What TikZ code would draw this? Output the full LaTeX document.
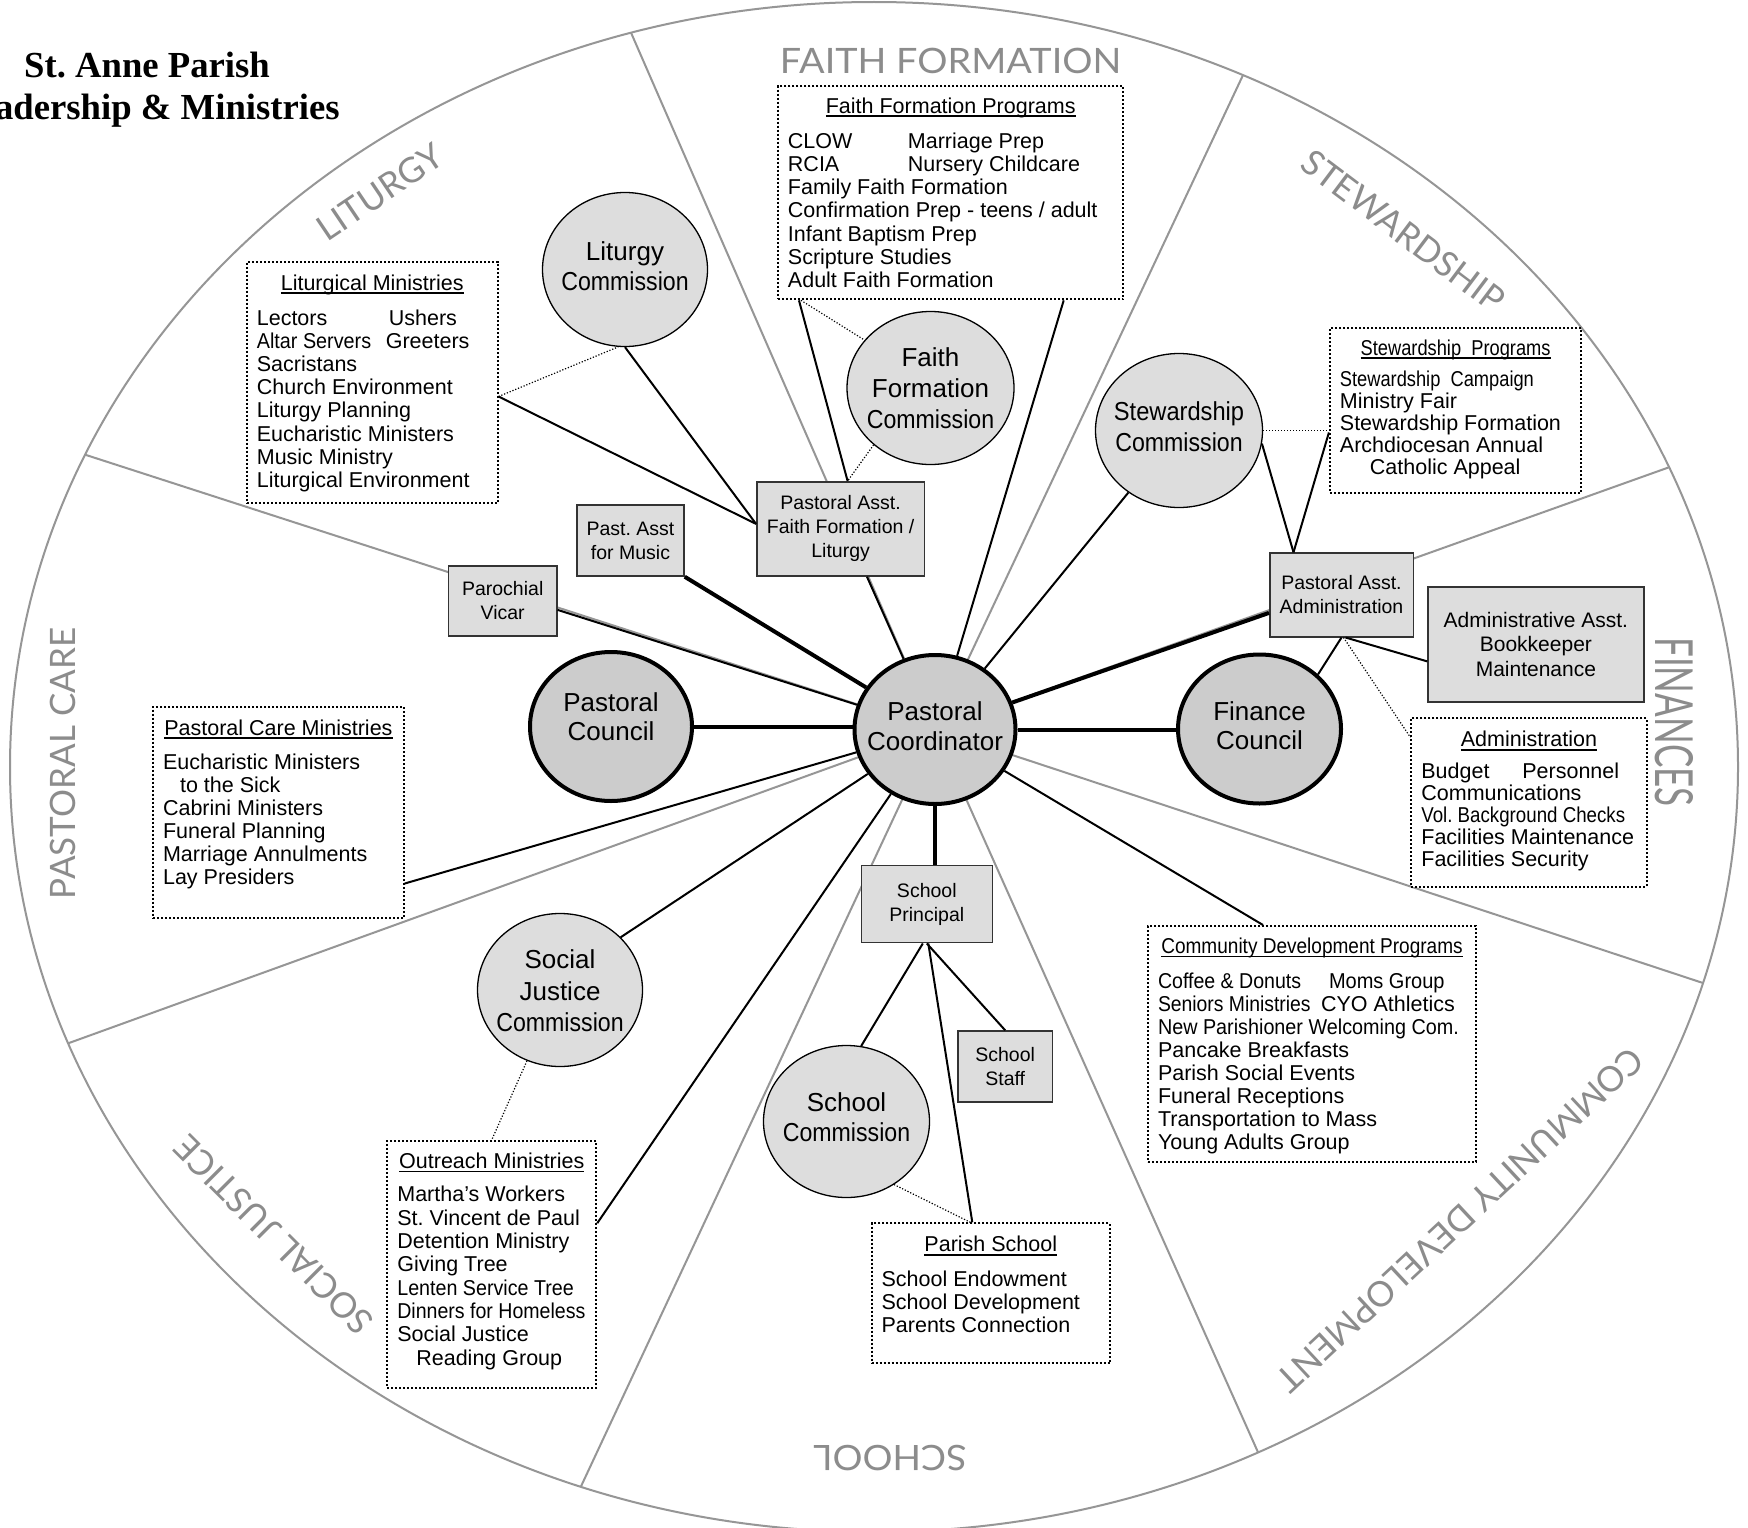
\documentclass[tikz,border=0pt]{standalone}
\usepackage{fontspec}
\usepackage{graphicx}
\setmainfont{Liberation Sans}
\newfontfamily\titlefont{Liberation Serif}
\newfontfamily\secfont{Lato}
\usetikzlibrary{shapes.geometric,intersections,calc}
\definecolor{secgray}{RGB}{140,140,140}
\definecolor{rimgray}{RGB}{150,150,150}
\definecolor{darkfill}{RGB}{204,204,204}
\definecolor{lightfill}{RGB}{221,221,221}
\frenchspacing
\newcommand\ulx[1]{\setbox0\hbox{#1}\rlap{\rule[-4pt]{\wd0}{1.6pt}}\box0}
\newcommand\colto[2]{\makebox[#1][l]{#2}}
\newcommand\cond[2][0.9]{\scalebox{#1}[1]{#2}}
\newcommand\cmm{\cond[0.89]{Commission}}
\newcommand\ctext[3]{\makebox[0pt]{\raisebox{#1}[0pt][0pt]{\fontsize{26}{#2}\selectfont\begin{tabular}[t]{@{}c@{}}#3\end{tabular}}}}
\newcommand\progtext[7]{\parbox[c][#2][t]{#1}{\fontsize{21.5}{#6}\selectfont
  \centering\rule{0pt}{#7}\ulx{#3}\par
  \vspace{#5}%
  \raggedright #4\par}}
\begin{document}
\begin{tikzpicture}[x=1pt,y=-1pt,
  bigcirc/.style={ellipse, draw=black, line width=4pt, fill=darkfill, inner sep=0pt},
  comm/.style={ellipse, draw=black, line width=1.3pt, fill=lightfill, inner sep=0pt},
  role/.style={rectangle, draw=black!80, line width=1.5pt, fill=lightfill, inner sep=0pt, align=center, font=\fontsize{19.5}{24}\selectfont},
  prog/.style={rectangle, draw=black, line width=2pt, dash pattern=on 2pt off 2pt, fill=white, inner xsep=10pt, inner ysep=0pt},
  link/.style={draw=black, line width=2pt},
  heavy/.style={draw=black, line width=4pt},
  dotlink/.style={draw=black, line width=1.2pt, dash pattern=on 1.2pt off 1.8pt},
  sector/.style={draw=rimgray, line width=2pt},
  seclabel/.style={text=secgray, font=\secfont\fontsize{35}{35}\selectfont, inner sep=0pt}]
\useasboundingbox (0,0) rectangle (1748,1528);
\fill[white] (0,0) rectangle (1748,1528);
\clip (0,0) rectangle (1748,1528);

% rim and sector lines
\draw[rimgray, line width=2pt, name path=rim] (874,767) ellipse [x radius=864pt, y radius=765pt];
\coordinate (hub) at (935,729.5);
\foreach \k/\tx/\ty in {1/632/35, 2/1244/73, 3/1667/468, 4/1703/983, 5/1257/1450, 6/584/1480, 7/69/1043, 8/86/455} {
  \path[name path=ray\k] (hub) -- ($(hub)!1.5!(\tx,\ty)$);
  \path[name intersections={of=rim and ray\k, by=rimpt\k}];
  \draw[sector] (hub) -- (rimpt\k);
}

% councils and coordinator
\node[bigcirc, minimum width=161pt, minimum height=149pt] (pc) at (hub) {\ctext{9.5pt}{30pt}{Pastoral\\Coordinator}};
\node[bigcirc, minimum width=162pt, minimum height=149pt] (pco) at (611,726.5) {\ctext{14.8pt}{28.5pt}{Pastoral\\Council}};
\node[bigcirc, minimum width=163pt, minimum height=149pt] (fc) at (1259.5,729) {\ctext{9pt}{29.3pt}{Finance\\Council}};

% commissions
\node[comm, minimum width=165pt, minimum height=154pt] (lc) at (625,269.5) {\ctext{9.5pt}{30pt}{Liturgy\\\cmm}};
\node[comm, minimum width=167pt, minimum height=153pt] (ffc) at (930.5,388) {\ctext{21.5pt}{31pt}{Faith\\Formation\\\cmm}};
\node[comm, minimum width=167pt, minimum height=154pt] (stc) at (1179,430.5) {\ctext{10.5pt}{31pt}{\cond[0.91]{Stewardship}\\\cmm}};
\node[comm, minimum width=165pt, minimum height=153pt] (sjc) at (560,990) {\ctext{21.5pt}{31.5pt}{Social\\Justice\\\cmm}};
\node[comm, minimum width=166pt, minimum height=152pt] (scc) at (846.5,1121.5) {\ctext{9.8pt}{30pt}{School\\\cmm}};

% staff boxes
\node[role, minimum width=108.3pt, minimum height=70.3pt] (pv) at (502.7,600.9) {Parochial\\Vicar};
\node[role, minimum width=107pt, minimum height=71pt] (music) at (630.5,540.5) {Past. Asst\\for Music};
\node[role, minimum width=167.6pt, minimum height=94.3pt] (paff) at (840.6,528.9) {Pastoral Asst.\\Faith Formation /\\Liturgy};
\node[role, minimum width=143.5pt, minimum height=83.7pt] (paa) at (1341.5,594.9) {Pastoral Asst.\\Administration};
\node[role, minimum width=215.7pt, minimum height=114.7pt, font=\fontsize{21}{24.5}\selectfont] (aa) at (1535.9,644.4) {Administrative Asst.\\Bookkeeper\\Maintenance};
\node[role, minimum width=130.9pt, minimum height=77pt] (sp) at (926.8,904.2) {School\\Principal};
\node[role, minimum width=94.9pt, minimum height=70.7pt] (ss) at (1005.2,1066.4) {School\\Staff};

% ministry / program boxes
\node[prog] (lm) at (372.2,382.5) {\progtext{230.7pt}{241.6pt}{Liturgical Ministries}{\colto{132pt}{Lectors}Ushers\\ \colto{129pt}{\cond[0.92]{Altar Servers}}Greeters\\ Sacristans\\ Church Environment\\ Liturgy Planning\\ Eucharistic Ministers\\ Music Ministry\\ Liturgical Environment}{11.8pt}{23.2pt}{28.3pt}};
\node[prog] (ffp) at (950.7,192.7) {\progtext{325.5pt}{213.3pt}{Faith Formation Programs}{\colto{120pt}{CLOW}Marriage Prep\\ \colto{120pt}{RCIA}Nursery Childcare\\ Family Faith Formation\\ Confirmation Prep - teens / adult\\ Infant Baptism Prep\\ Scripture Studies\\ Adult Faith Formation}{12.1pt}{23.2pt}{27pt}};
\node[prog] (stp) at (1455.6,410.5) {\progtext{231.4pt}{164.4pt}{\cond[0.85]{Stewardship\ \ Programs}}{\cond[0.85]{Stewardship\ \ Campaign}\\ Ministry Fair\\ Stewardship Formation\\ Archdiocesan Annual\\ \hspace*{30pt}Catholic Appeal}{9.7pt}{22pt}{26.7pt}};
\node[prog] (adm) at (1529,802.5) {\progtext{215.3pt}{168.4pt}{Administration}{\colto{101pt}{Budget}Personnel\\ Communications\\ \cond[0.87]{Vol. Background Checks}\\ Facilities Maintenance\\ Facilities Security}{9.5pt}{22.1pt}{28.4pt}};
\node[prog] (pcm) at (278.4,812.5) {\progtext{230.7pt}{211.6pt}{Pastoral Care Ministries}{Eucharistic Ministers\\ \hspace*{17pt}to the Sick\\ Cabrini Ministers\\ Funeral Planning\\ Marriage Annulments\\ Lay Presiders}{11.2pt}{23.1pt}{28.3pt}};
\node[prog] (cdp) at (1312,1044) {\progtext{308pt}{236pt}{\cond[0.885]{Community Development Programs}}{\colto{171pt}{\cond[0.91]{Coffee \& Donuts}}\cond[0.93]{Moms Group}\\ \colto{163pt}{\cond[0.9]{Seniors Ministries}}CYO Athletics\\ \cond[0.92]{New Parishioner Welcoming Com.}\\ Pancake Breakfasts\\ Parish Social Events\\ Funeral Receptions\\ Transportation to Mass\\ Young Adults Group}{11.8pt}{23.1pt}{27.3pt}};
\node[prog] (ob) at (491.8,1264.2) {\progtext{188.9pt}{247pt}{Outreach Ministries}{Martha’s Workers\\ St. Vincent de Paul\\ Detention Ministry\\ Giving Tree\\ \cond[0.915]{Lenten Service Tree}\\ \cond[0.91]{Dinners for Homeless}\\ Social Justice\\ \hspace*{19pt}Reading Group}{10.3pt}{23.3pt}{27.6pt}};
\node[prog] (ps) at (990.8,1293.3) {\progtext{218.4pt}{140pt}{Parish School}{School Endowment\\ School Development\\ Parents Connection}{11pt}{23.3pt}{28.4pt}};

% connectors from the coordinator
\draw[heavy] (pco.east) -- (pco.east -| pc.west);
\draw[heavy] (pc.east) -- (pc.east -| fc.west);
\draw[heavy] (pc) -- ([yshift=-18pt]paa.west);
\draw[heavy] (pc) -- (music.south east);
\draw[link] (pc) -- ([yshift=-9pt]pv.east);
\draw[link] (pc) -- ([xshift=26.4pt]paff.south);
\draw[link] (pc) -- ([xshift=113pt]ffp.south);
\draw[link] (pc) -- (stc);
\draw[link] (pc) -- ([xshift=-49pt]cdp.north);
\draw[heavy] (pc.south) -- (pc.south |- sp.north);
\draw[link] (pc) -- (sjc.41);
\draw[link] (pc) -- ([yshift=41pt]ob.east);
\draw[link] (pc) -- ([yshift=-71pt]pcm.east);

% liturgy
\draw[link] (lc.south) -- ([yshift=5pt]paff.west);
\draw[link] ([yshift=-14pt]lm.east) -- ([yshift=5pt]paff.west);
\draw[dotlink] ([yshift=-14pt]lm.east) -- (lc.265);

% faith formation
\draw[link] ([xshift=22pt]ffp.south west) -- ([xshift=7pt]paff.north);
\draw[dotlink] ([xshift=24pt]ffp.south west) -- (ffc.144);
\draw[dotlink] (ffc.225) -- ([xshift=7pt]paff.north);

% stewardship
\draw[dotlink] (stc.east) -- (stc.east -| stp.west);
\draw[link] (stc.-9) -- ([xshift=-48pt]paa.north);
\draw[link] ([yshift=-22pt]stp.west) -- ([xshift=-48pt]paa.north);

% finances
\draw[link] (paa.south) -- (fc.43);
\draw[link] ([xshift=4pt]paa.south) -- ([yshift=-17pt]aa.west);
\draw[dotlink] ([xshift=2pt]paa.south) -- ([yshift=-20pt]adm.north west);

% school
\draw[link] ([xshift=-4pt]sp.south) -- (scc.79);
\draw[link] ([xshift=1.5pt]sp.south) -- ([xshift=-18.5pt]ps.north);
\draw[link] (sp.south) -- (ss.north);
\draw[dotlink] (scc.-53) -- ([xshift=-20.5pt]ps.north);

% social justice
\draw[dotlink] (sjc.-115) -- (ob.north);

% sector labels
\node[seclabel] (lblff) at (950.6,60.5) {\cond[1.08]{FAITH FORMATION}};
\node[seclabel, rotate=34] (lbllit) at (380,192) {LITURGY};
\node[seclabel, rotate=-37] (lblstw) at (1403,231) {STEWARDSHIP};
\node[seclabel, rotate=-90] (lblfin) at (1674,722) {\scalebox{1}[1.5]{FINANCES}};
\node[seclabel, rotate=-137] (lblcd) at (1460,1220) {COMMUNITY DEVELOPMENT};
\node[seclabel, rotate=180] (lblsch) at (890,1458) {\cond[1.07]{SCHOOL}};
\node[seclabel, rotate=135] (lblsj) at (273.6,1235) {SOCIAL JUSTICE};
\node[seclabel, rotate=90] (lblpc) at (62.7,763.5) {PASTORAL CARE};

% title
\node[font=\titlefont\bfseries\fontsize{36.7}{41.3}\selectfont, align=center, anchor=north, inner sep=0pt] (title) at (147,52.2) {St. Anne Parish\\Leadership \& Ministries};
\end{tikzpicture}
\end{document}
